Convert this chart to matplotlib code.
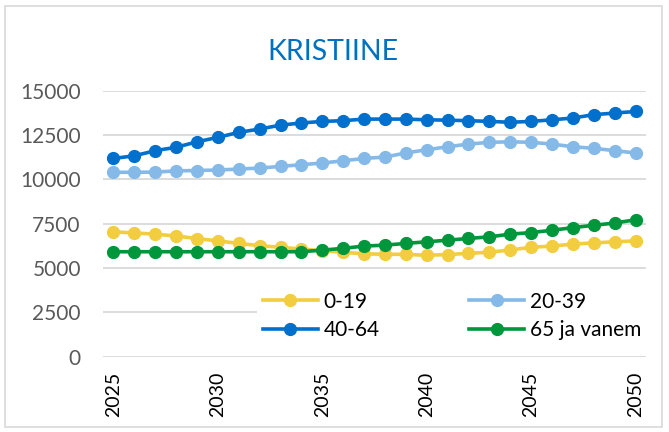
import matplotlib
matplotlib.use("Agg")
import matplotlib.pyplot as plt
from matplotlib.patches import Rectangle

years = list(range(2025, 2051))

age_0_19 = [7040, 6980, 6910, 6810, 6660, 6530, 6390, 6260, 6170, 6070, 5980, 5890, 5800, 5780,
            5770, 5720, 5760, 5830, 5890, 6020, 6170, 6240, 6350, 6420, 6480, 6530]
age_20_39 = [10400, 10400, 10410, 10480, 10500, 10530, 10580, 10640, 10730, 10830, 10920, 11050, 11180, 11260,
             11490, 11670, 11840, 11990, 12090, 12120, 12090, 11990, 11840, 11750, 11620, 11490]
age_40_64 = [11180, 11330, 11620, 11810, 12120, 12370, 12650, 12840, 13060, 13180, 13270, 13310, 13400, 13400,
             13400, 13360, 13340, 13310, 13270, 13220, 13270, 13360, 13460, 13650, 13740, 13830]
age_65 = [5920, 5920, 5920, 5920, 5920, 5920, 5920, 5920, 5920, 5920, 6010, 6110, 6240, 6290,
          6390, 6480, 6570, 6670, 6760, 6910, 7000, 7130, 7280, 7410, 7540, 7720]

series = [
    ("0-19", age_0_19, "#F2CD3F"),
    ("20-39", age_20_39, "#85BAE8"),
    ("40-64", age_40_64, "#0070CC"),
    ("65 ja vanem", age_65, "#00963C"),
]

plt.rcParams['font.family'] = ['Lato', 'DejaVu Sans']

fig = plt.figure(figsize=(6.69, 4.32), dpi=100)
ax = fig.add_axes([0.154, 0.1743, 0.8116, 0.6157])

lines = {}
for name, vals, col in series:
    lines[name], = ax.plot(years, vals, color=col, lw=2.6, marker='o', markersize=8.5, label=name, zorder=3)

ax.set_xlim(2024.5, 2050.5)
ax.set_ylim(0, 15000)
ax.set_yticks(range(0, 15001, 2500))
ax.set_xticks(range(2025, 2051, 5))
ax.set_xticklabels([str(y) for y in range(2025, 2051, 5)], rotation=90)
ax.yaxis.grid(True, color='#D9D9D9', lw=1.3, zorder=0)
for s in ax.spines.values():
    s.set_visible(False)
ax.tick_params(axis='both', length=0)
ax.tick_params(axis='y', labelsize=15, labelcolor='#595959', pad=16)
ax.tick_params(axis='x', labelsize=14, labelcolor='black', pad=11)

fig.text(0.497, 0.88, "KRISTIINE", color='#0070C0', fontsize=20.5, ha='center', va='center')

# row order like excel: 0-19, 20-39 / 40-64, 65 ja vanem
order = ["0-19", "40-64", "20-39", "65 ja vanem"]
leg = ax.legend([lines[n] for n in order], order, ncol=2, loc='lower right',
                bbox_to_anchor=(1.022, 0.0), fontsize=15,
                frameon=True, facecolor='white', edgecolor='none', framealpha=1,
                handlelength=2.6, columnspacing=4.3, handletextpad=0.3,
                labelspacing=0.4, borderpad=0.3)
leg.set_zorder(5)

fig.patches.append(Rectangle((5 / 669, 5 / 432), 657 / 669, 421 / 432, transform=fig.transFigure,
                             fill=False, edgecolor='#D9D9D9', lw=1.2))

fig.savefig("out.png", dpi=100)
